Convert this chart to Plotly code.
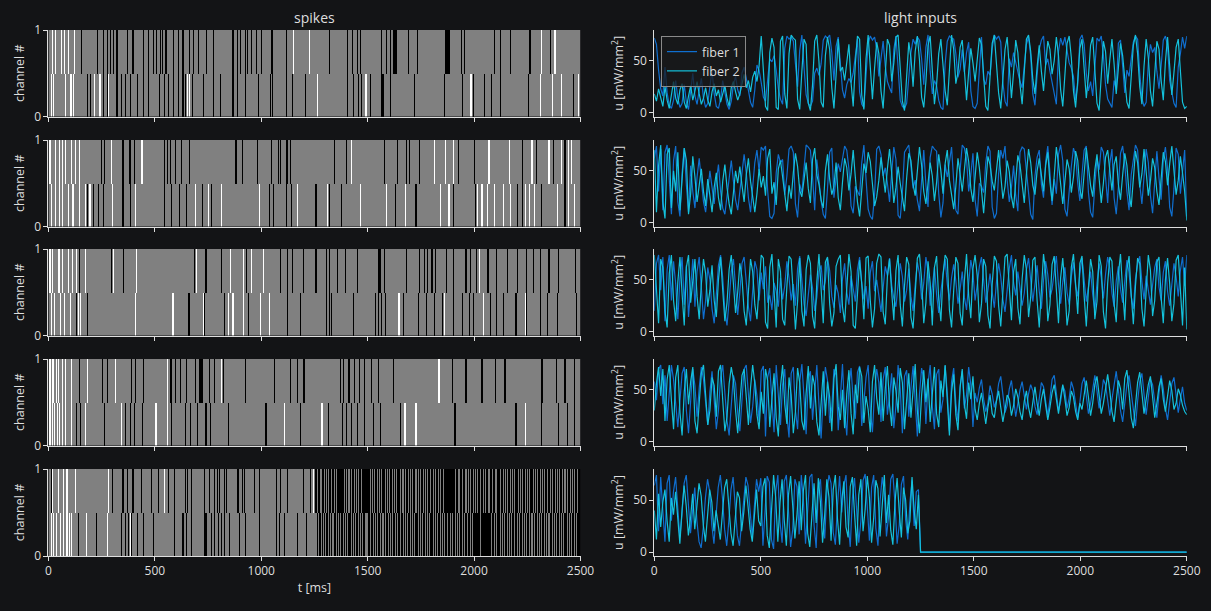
import numpy as np
import plotly.graph_objects as go

# ---------------- data ----------------
T_END = 2500
BIN = 5
xtick_vals = [0, 500, 1000, 1500, 2000, 2500]
ytick_spk = [0, 1]
ytick_u = [0, 50]

# spike raster events (ms): channel 1 = upper row, channel 0 = lower row
p1_c1_black = [156,230,255,277,292,305,324,371,396,449,474,493,509,525,537,553,587,611,631,662,681,709,741,775,869,888,903,928,939,950,975,1002,1049,1054,1117,1320,1409,1429,1451,1468,1566,1587,1606,1620,1625,1630,1635,1691,1734,1868,1873,1878,1884,1942,1958,2098,2122,2172,2260,2265,2358]
p1_c1_white = [15,31,62,78,94,120,1151,1226,2318,2376,2381]
p1_c0_black = [183,199,255,277,321,344,364,386,418,449,474,521,548,564,587,611,631,642,678,728,775,806,869,888,928,986,1044,1054,1117,1148,1206,1409,1433,1456,1472,1511,1566,1571,1606,1723,1860,1949,1997,2048,2080,2122,2255,2466]
p1_c0_white = [11,23,83,101,109,117,216,240,282,653,662,1261,1491,1981,1985,2313,2368,2412,2490]

p2_c1_black = [246,262,348,353,380,388,401,547,555,574,599,626,660,879,883,911,982,1048,1081,1092,1116,1121,1136,1340,1404,1578,1642,1683,1699,1743,1925,2003,2228,2294,2370,2427]
p2_c1_white = [8,32,52,68,84,105,126,146,299,437,442,1424,1812,1869,1901,2068,2071,2165,2273,2351,2411,2440,2459]
p2_c0_black = [181,210,239,256,348,353,385,547,579,615,647,720,765,1036,1055,1116,1141,1259,1324,1375,1634,1728,1901,2006,2204,2225,2318,2427]
p2_c0_white = [13,32,52,65,94,110,116,146,170,191,197,304,408,691,752,812,990,1170,1314,1466,1589,1679,1841,1880,2019,2039,2063,2095,2136,2171,2241,2262,2283,2391,2443,2471]

p3_c1_black = [146,296,351,689,737,742,812,934,1094,1124,1149,1197,1259,1307,1324,1359,1395,1453,1550,1556,1561,1578,1683,1744,1768,1783,1801,1817,1874,1901,1963,1982,2010,2063,2068,2107,2157,2204,2246,2278,2314,2354,2395,2475]
p3_c1_white = [6,19,45,52,65,94,110,133,170,307,413,699,858,917,951,1011,2026]
p3_c0_black = [134,183,659,663,731,828,943,1124,1181,1307,1324,1332,1432,1537,1553,1569,1582,1667,1739,1777,1812,1853,1901,1946,1977,1998,2079,2107,2139,2197,2246,2311,2349,2391,2484]
p3_c0_white = [13,29,57,78,100,142,154,405,582,587,725,845,869,919,995,1039,1646,1861,2044,2241]

p4_c1_black = [146,251,278,392,405,445,574,579,599,620,647,691,712,716,720,757,780,822,925,1061,1136,1170,1197,1201,1372,1388,1413,1435,1461,1489,1517,1550,1621,1898,1961,2039,2103,2144,2149,2318,2323,2387,2427,2471]
p4_c1_white = [8,16,24,36,49,65,84,105,183,319,558,812,1833,1838]
p4_c0_black = [133,154,262,361,385,400,440,579,642,668,704,737,742,760,849,1024,1183,1315,1383,1401,1424,1453,1489,1526,1564,1654,1906,1911,2197,2318,2395,2435,2471]
p4_c0_white = [8,16,28,40,53,68,84,105,170,340,502,506,558,1108,1281,1286,1671,1676,1728,2241]

p5_c1_black = [12,304,348,351,354,371,398,437,480,515,562,590,640,652,671,733,757,780,793,803,827,839,889,894,914,924,967,991,1073,1092,1120,1198,1232]
p5_c1_white = [19,47,70,89,128,281,549,1248]
p5_c0_black = [144,226,340,362,378,393,418,449,491,590,632,647,671,733,737,741,769,780,796,811,827,850,897,925,991,1073,1089,1105,1170,1214]
p5_c0_white = [12,23,39,55,70,86,97,109,175,276,387]
p5_c1_dark_from = 1255
p5_c0_dark_from = 1262
p5_c1_gray = [1263,1276,1284,1297,1306,1318,1331,1340,1352,1391,1403,1410,1424,1437,1449,1458,1472,1513,1521,1534,1548,1556,1569,1580,1593,1602,1615,1629,1637,1651,1662,1667,1679,1691,1700,1714,1726,1735,1748,1762,1771,1783,1797,1806,1819,1830,1843,1856,1913,1926,1934,1947,1961,1970,1982,1996,2005,2018,2031,2040,2052,2066,2074,2088,2101,2109,2122,2136,2145,2158,2170,2183,2192,2206,2215,2228,2241,2250,2263,2277,2285,2298,2311,2320,2334,2346,2355,2369,2381,2390,2403,2417,2426,2438,2452,2461,2474,2487]
p5_c0_gray = [1268,1281,1290,1303,1316,1325,1338,1351,1360,1372,1386,1395,1408,1421,1430,1443,1456,1465,1478,1490,1499,1512,1526,1535,1548,1561,1570,1583,1596,1605,1618,1631,1640,1652,1666,1675,1688,1701,1710,1723,1736,1745,1758,1771,1780,1793,1806,1815,1828,1841,1850,1863,1876,1885,1898,1911,1920,1933,1946,1955,1968,1981,1994,2030,2084,2099,2108,2121,2134,2143,2156,2169,2178,2191,2204,2213,2226,2239,2248,2261,2274,2283,2296,2309,2318,2331,2344,2353,2366,2379,2388,2401,2414,2423,2436,2449,2458,2471,2484]

# light inputs (mW/mm^2), sampled every ~10 ms
p1_f1 = [72,66,41,23,16,44,19,7,4,12, 31,14,5,9,27,10,3,21,38,16, 8,22,33,14,5,9,25,41,18,6, 4,13,31,20,8,3,11,27,35,22, 16,38,44,33,20,10,5,22,46,41,
         29,15,11,33,52,49,55,41,23,13, 8,62,74,71,73,69,48,25,60,75, 44,17,9,6,11,38,43,36,47,70, 74,72,75,58,31,64,73,46,22,14, 27,33,29,38,56,71,20,8,5,41,
         67,74,70,73,62,35,52,69,45,30, 24,19,61,74,43,12,6,4,9,33, 58,71,66,73,70,52,27,63,75,40, 18,31,26,12,5,3,47,69,74,72, 71,57,34,42,61,39,58,68,21,6,
         4,9,45,73,32,27,40,36,62,75, 71,74,68,29,11,6,52,44,58,49, 37,30,24,45,66,73,55,18,7,36, 61,70,74,46,52,40,28,19,8,59, 72,65,73,60,48,43,35,12,27,71,
         75,66,38,21,30,16,49,72,69,74, 55,27,13,9,5,31,22,67,70,45, 19,41,35,52,68,74,71,38,14,6, 10,48,66,58,63,40,23,45,70,74, 64,31,18,9,5,44,57,73,62,74]
p1_f2 = [18,11,23,14,6,25,12,4,18,30, 14,8,22,28,10,4,16,26,12,20, 30,18,8,14,24,12,6,20,28,16, 22,10,18,26,14,6,24,30,20,12, 18,28,37,24,31,20,34,40,30,45,
         74,41,6,2,58,72,63,5,3,69, 74,18,4,57,75,72,70,13,3,40, 71,66,9,2,27,69,75,49,10,5, 55,73,61,24,4,36,71,40,44,31, 46,66,29,6,47,74,71,17,3,52,
         75,41,13,43,68,57,21,4,35,71, 65,30,48,73,75,44,11,2,39,68, 53,25,59,74,51,15,5,30,65,74, 41,8,27,57,71,47,21,7,43,75, 61,28,39,63,70,36,12,39,62,48,
         30,51,72,66,30,6,2,37,67,75, 49,19,4,29,61,73,45,14,39,70, 58,27,8,41,71,75,59,32,18,44, 65,40,21,47,69,61,37,50,73,55, 22,6,39,67,74,53,21,5,31,62,
         71,45,14,35,65,73,40,9,2,33, 69,59,28,51,71,47,18,43,67,55, 31,10,4,37,65,75,57,25,8,45, 71,53,21,6,39,69,61,31,12,49, 73,43,17,39,63,71,37,10,4,6]
p2_f1 = [62,74,30,71,12,68,75,41,8,60, 74,20,6,48,72,36,10,55,30,14, 44,62,38,20,10,28,50,34,18,40, 56,30,14,8,26,44,60,40,22,12, 30,52,66,48,24,10,36,58,70,50,
         73,70,74,31,6,4,9,48,66,58, 61,27,45,71,74,68,18,5,37,29, 52,75,73,70,44,12,61,39,21,8, 4,33,68,72,24,43,57,49,63,74, 70,52,16,9,35,31,26,58,75,42,
         13,6,3,27,71,74,66,45,53,38, 20,48,73,61,7,4,29,68,72,75, 55,33,41,22,11,46,70,36,15,63, 74,71,69,28,5,19,56,44,60,73, 40,12,8,51,75,72,61,30,46,67,
         22,6,38,35,29,58,74,69,15,4, 9,47,70,62,74,41,20,34,55,26, 11,68,73,71,50,32,8,3,45,63, 70,37,24,59,74,48,17,42,28,66, 75,60,13,6,31,54,72,65,38,21,
         47,70,74,29,10,5,36,62,51,73, 68,42,19,57,71,24,8,34,67,74, 56,30,12,46,63,75,70,37,18,49, 71,58,26,9,40,69,43,22,61,73, 52,15,6,33,72,66,28,47,70,6]
p2_f2 = [70,10,55,75,20,4,66,72,14,50, 30,68,12,40,72,60,8,28,64,44, 20,36,52,30,16,42,26,10,34,48, 24,12,40,56,34,18,8,30,50,38, 54,36,20,46,62,40,22,10,28,52,
         34,45,26,62,71,28,39,17,52,60, 44,29,11,36,23,48,67,54,31,25, 40,58,33,19,61,72,46,37,22,14, 50,66,42,27,35,58,24,12,39,62, 53,31,47,70,44,20,6,36,57,48,
         68,59,33,16,25,41,63,45,29,52, 71,48,19,34,54,38,22,11,43,67, 60,37,26,49,73,55,30,18,36,58, 45,21,39,66,50,28,57,70,41,24, 13,35,62,47,30,51,72,59,33,20,
         44,68,53,27,9,37,64,56,40,31, 52,70,46,23,35,60,49,25,14,42, 65,56,34,19,47,71,58,36,27,50, 62,43,30,55,68,39,21,45,73,57, 35,18,40,61,52,29,44,69,60,32,
         23,49,72,54,36,25,51,66,43,19, 38,63,70,48,31,56,64,37,22,46, 67,55,28,15,42,69,58,34,47,71, 49,26,40,62,53,30,17,45,68,59, 36,57,74,50,27,41,64,48,30,2]
p3_f1 = [20,66,74,40,72,10,60,74,30,68, 46,12,52,72,26,64,14,44,70,24, 58,72,40,12,30,62,50,22,8,36, 64,74,52,20,6,30,58,70,44,16, 38,66,72,50,24,10,42,68,60,30,
         57,41,63,28,35,21,47,39,24,52, 31,44,68,52,30,46,25,61,73,48, 27,15,36,55,42,20,33,58,64,40, 49,71,59,34,23,45,37,18,51,66, 38,26,54,42,29,60,72,47,31,44,
         22,57,68,39,50,35,19,42,63,54, 71,45,32,24,48,66,53,29,40,61, 34,20,45,67,56,31,47,72,58,25, 43,62,36,18,39,55,70,46,30,52, 65,49,27,41,58,33,21,47,69,57,
         30,45,63,72,50,28,40,56,38,23, 48,66,53,31,19,44,61,74,47,35, 58,42,25,37,60,71,49,29,46,64, 39,22,50,68,55,33,41,59,73,45, 27,48,62,38,26,53,67,44,34,56,
         71,50,29,43,58,36,20,47,66,52, 32,55,72,61,37,24,49,63,41,28, 46,69,57,34,22,51,65,73,48,31, 54,40,26,45,62,70,43,30,57,68, 39,25,48,66,53,34,59,72,44,74]
p3_f2 = [74,44,8,70,62,20,4,56,74,30, 10,48,72,36,6,62,74,28,50,70, 34,12,46,70,56,24,40,64,30,14, 50,72,40,10,28,60,74,46,18,38, 66,52,20,6,44,70,58,26,12,48,
         74,71,9,3,62,75,33,4,70,58, 12,6,44,73,70,41,2,29,71,20, 5,60,74,66,15,3,48,75,39,8, 67,72,27,5,18,63,70,74,24,9, 42,75,58,6,3,35,69,46,12,71,
         73,30,4,22,66,75,72,19,7,53, 70,38,11,59,74,26,5,44,72,65, 14,3,37,71,75,50,8,28,68,47, 6,62,73,31,10,55,74,70,21,4, 40,72,66,18,6,49,75,35,13,61,
         74,54,9,27,70,63,16,3,46,73, 68,25,5,39,72,75,42,11,58,70, 23,7,51,74,60,14,33,69,72,30, 4,45,75,57,10,26,65,73,38,8, 52,71,43,6,20,62,75,48,17,66,
         73,34,5,41,70,58,12,29,74,63, 19,3,47,72,68,27,9,55,75,40, 11,60,73,36,7,44,71,66,22,5, 38,74,59,15,30,67,72,33,8,50, 71,46,10,27,69,74,41,6,62,2]
p4_f1 = [58,40,70,74,36,64,20,50,74,60, 36,14,40,66,72,30,8,44,70,54, 24,52,72,60,34,16,48,68,40,12, 30,62,74,50,20,6,36,64,56,28, 10,42,70,74,48,18,34,60,44,20,
         68,73,5,62,71,38,9,74,47,16, 55,70,25,4,66,72,30,12,58,75, 43,7,61,68,21,50,74,36,3,45, 72,59,18,33,70,64,11,42,75,29, 6,53,71,40,22,67,73,15,37,62,
         74,31,9,48,70,57,19,60,72,26, 44,66,13,35,74,51,8,63,69,24, 52,73,39,5,46,71,60,17,56,74, 34,12,65,70,28,41,73,47,10,58, 71,37,20,54,68,32,45,72,55,14,
         47,38,52,60,41,29,37,54,46,33, 40,56,63,45,28,35,51,59,42,24, 37,50,58,44,31,46,55,49,34,26, 43,57,53,36,25,41,60,64,47,30, 39,54,49,32,42,58,51,36,23,38,
         56,62,44,27,37,52,64,49,32,43, 60,55,38,25,41,57,68,50,30,19, 35,55,64,47,28,15,39,58,66,45, 26,43,60,55,36,23,47,64,51,32, 21,37,56,62,45,28,41,53,37,30]
p4_f2 = [30,56,72,44,70,20,60,74,40,12, 62,74,28,6,48,70,36,58,72,20, 8,40,66,74,46,16,30,62,54,24, 68,74,40,10,24,56,72,60,30,8, 36,64,70,42,16,52,74,56,26,12,
         48,27,70,59,14,41,66,23,5,53, 74,36,17,62,45,8,29,71,57,20, 11,47,73,32,64,54,19,6,40,68, 25,58,43,10,61,75,34,21,50,13, 46,69,27,7,55,37,72,63,18,44,
         31,9,58,74,42,26,67,20,51,73, 35,15,62,49,28,71,57,12,40,66, 23,54,75,30,8,45,69,38,61,19, 50,72,27,14,59,43,74,33,6,48, 65,26,11,52,70,36,22,57,41,63,
         31,21,37,47,29,17,33,45,27,23, 39,49,33,19,31,45,41,25,35,51, 43,29,21,39,49,33,23,41,53,37, 25,41,51,35,21,33,47,55,39,27, 43,55,41,25,33,49,43,29,21,37,
         31,45,59,43,25,37,55,63,45,27, 37,53,65,49,29,19,41,59,51,31, 61,69,47,23,13,35,57,67,45,27, 41,55,63,43,23,37,53,61,41,29, 45,59,49,31,37,51,45,35,29,26]
# panel 5: light switched off at 1250 ms
p5_f1 = [64,74,20,72,40,10,66,74,30,58, 72,44,14,36,66,74,48,18,40,62, 30,10,4,24,52,70,58,26,8,36, 62,74,52,22,6,30,60,72,44,16, 6,28,56,72,64,36,14,44,70,58,
         71,6,45,73,67,12,3,58,74,29, 9,68,74,41,5,22,70,63,17,74, 50,8,36,72,75,26,4,61,70,33, 13,57,74,66,19,7,45,73,38,64, 74,27,5,52,71,44,9,30,69,75,
         40,11,62,74,23,6,49,72,57,15, 34,70,75,47,8,26,65,73,31,12, 47,69,25,58,60]
p5_f2 = [40,12,56,24,48,60,30,10,52,36, 58,28,8,40,64,44,16,32,56,22, 46,66,54,26,10,34,60,48,20,40, 24,12,38,62,70,44,18,6,32,58, 52,20,38,64,44,22,10,36,60,30,
         25,63,71,16,4,39,74,52,10,47, 70,31,6,55,73,44,13,36,68,21, 59,74,18,5,42,66,28,71,48,9, 36,70,53,11,60,74,32,7,49,68, 24,14,63,72,37,6,55,70,20,41,
         73,52,9,33,69,61,15,44,74,28, 55,21,7,48,71,39,14,62,50,18, 30,72,40,22,55]
p5_off_time = 1250
p5_off_value = 0

# ---------------- figure ----------------
BG = "#131416"
FG = "#dedede"
C1 = "#0f6fd0"
C2 = "#14c2dc"
FONT = "Open Sans"

nb = T_END // BIN
xc = [BIN * (i + 0.5) for i in range(nb)]


def raster_row(black, white, dark_from=None, gray=()):
    row = [0.5] * nb
    if dark_from is not None:
        for i in range(int(dark_from // BIN), nb):
            row[i] = 0.0
    for t in black:
        row[min(int(t // BIN), nb - 1)] = 0.0
    for t in white:
        row[min(int(t // BIN), nb - 1)] = 1.0
    for t in gray:
        row[min(int(t // BIN), nb - 1)] = 0.5
    return row


rasters = [
    (raster_row(p1_c0_black, p1_c0_white), raster_row(p1_c1_black, p1_c1_white)),
    (raster_row(p2_c0_black, p2_c0_white), raster_row(p2_c1_black, p2_c1_white)),
    (raster_row(p3_c0_black, p3_c0_white), raster_row(p3_c1_black, p3_c1_white)),
    (raster_row(p4_c0_black, p4_c0_white), raster_row(p4_c1_black, p4_c1_white)),
    (raster_row(p5_c0_black, p5_c0_white, p5_c0_dark_from, p5_c0_gray),
     raster_row(p5_c1_black, p5_c1_white, p5_c1_dark_from, p5_c1_gray)),
]


def full_t(vals):
    return list(np.linspace(0, T_END, len(vals)))


lights = [(full_t(p1_f1), p1_f1, full_t(p1_f2), p1_f2),
          (full_t(p2_f1), p2_f1, full_t(p2_f2), p2_f2),
          (full_t(p3_f1), p3_f1, full_t(p3_f2), p3_f2),
          (full_t(p4_f1), p4_f1, full_t(p4_f2), p4_f2)]
t5a = [i * 10 for i in range(len(p5_f1))] + [p5_off_time, T_END]
t5b = [i * 10 for i in range(len(p5_f2))] + [p5_off_time, T_END]
lights.append((t5a, p5_f1 + [p5_off_value, p5_off_value], t5b, p5_f2 + [p5_off_value, p5_off_value]))

W, H = 1211, 611
xl = [48.4 / W, 580.5 / W]
xr = [654.3 / W, 1186.8 / W]
rows_px = [(30, 116.5), (140, 226.5), (249, 335.5), (359, 445.5), (469, 556)]

fig = go.Figure()
layout = {}
title_font = dict(family=FONT, size=12.5, color=FG)
for k in range(5):
    top, bot = rows_px[k]
    ydom = [1 - bot / H, 1 - top / H]
    ia = 2 * k + 1
    ib = 2 * k + 2
    sa = "" if ia == 1 else str(ia)
    sb = str(ib)
    z = [rasters[k][0], rasters[k][1]]
    fig.add_trace(go.Heatmap(x=xc, y=[0.25, 0.75], z=z, zmin=0, zmax=1,
                             colorscale=[[0, "#000000"], [0.5, "#808080"], [1, "#ffffff"]],
                             showscale=False, hoverinfo="skip",
                             xaxis="x" + sa, yaxis="y" + sa))
    tf1, v1, tf2, v2 = lights[k]
    fig.add_trace(go.Scatter(x=tf1, y=v1, mode="lines", line=dict(color=C1, width=1.2),
                             name="fiber 1", showlegend=(k == 0), xaxis="x" + sb, yaxis="y" + sb))
    fig.add_trace(go.Scatter(x=tf2, y=v2, mode="lines", line=dict(color=C2, width=1.2),
                             name="fiber 2", showlegend=(k == 0), xaxis="x" + sb, yaxis="y" + sb))
    common = dict(showline=True, linecolor=FG, linewidth=1, ticks="outside", ticklen=4,
                  tickcolor=FG, tickwidth=1, showgrid=False, zeroline=False, automargin=False,
                  tickfont=dict(family=FONT, size=12, color=FG))
    last = (k == 4)
    xa = dict(domain=xl, anchor="y" + sa, range=[0, T_END], tickvals=xtick_vals,
              showticklabels=last, **common)
    if last:
        xa["title"] = dict(text="t [ms]", font=title_font, standoff=4)
    layout["xaxis" + sa] = xa
    layout["yaxis" + sa] = dict(domain=ydom, anchor="x" + sa, range=[0, 1], tickvals=ytick_spk,
                                title=dict(text="channel #", font=title_font, standoff=6),
                                **common)
    layout["xaxis" + sb] = dict(domain=xr, anchor="y" + sb, range=[0, T_END], tickvals=xtick_vals,
                                showticklabels=last, **common)
    layout["yaxis" + sb] = dict(domain=ydom, anchor="x" + sb, range=[-3.8, 79.8], tickvals=ytick_u,
                                title=dict(text="u [mW/mm<sup>2</sup>]", font=title_font, standoff=6),
                                **common)

fig.update_layout(**layout)
fig.update_layout(
    width=W, height=H, paper_bgcolor=BG, plot_bgcolor=BG,
    margin=dict(l=0, r=0, t=0, b=0, autoexpand=False),
    font=dict(family=FONT, color=FG, size=12),
    legend=dict(x=661 / W, y=1 - 36 / H, xanchor="left", yanchor="top",
                bgcolor="rgba(25,26,28,0.75)", bordercolor="#8a8a8a", borderwidth=1,
                font=dict(family=FONT, size=12.5, color=FG), tracegroupgap=2),
    annotations=[
        dict(text="spikes", x=(xl[0] + xl[1]) / 2, y=1 - 17 / H, xref="paper", yref="paper",
             xanchor="center", yanchor="middle",
             showarrow=False, font=dict(family=FONT, size=14, color=FG)),
        dict(text="light inputs", x=(xr[0] + xr[1]) / 2, y=1 - 17 / H, xref="paper", yref="paper",
             xanchor="center", yanchor="middle",
             showarrow=False, font=dict(family=FONT, size=14, color=FG)),
    ],
)

fig.write_html("out.html")
